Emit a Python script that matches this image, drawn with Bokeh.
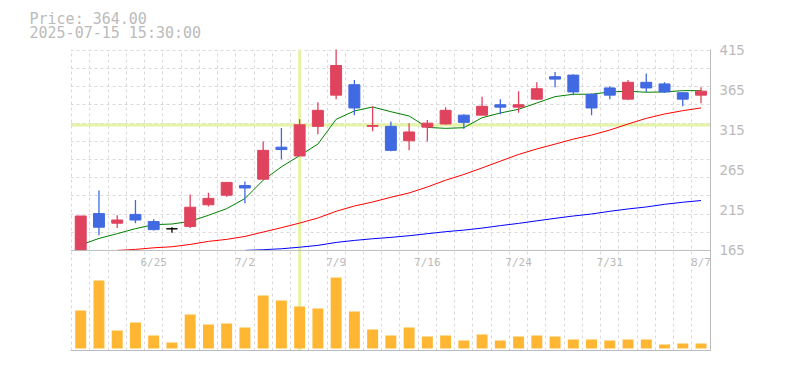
from bokeh.plotting import figure
from bokeh.models import Range1d, FixedTicker, Span, Title, ColumnDataSource
from bokeh.core.properties import value
from bokeh.embed import file_html
from bokeh.resources import INLINE

nan = float("nan")

dates = ["6/19", "6/20", "6/23", "6/24", "6/25", "6/26", "6/27", "6/30", "7/1", "7/2",
         "7/3", "7/4", "7/7", "7/8", "7/9", "7/10", "7/11", "7/14", "7/15", "7/16",
         "7/17", "7/18", "7/22", "7/23", "7/24", "7/25", "7/28", "7/29", "7/30", "7/31",
         "8/1", "8/4", "8/5", "8/6", "8/7"]
tick_dates = ["6/25", "7/2", "7/9", "7/16", "7/24", "7/31", "8/7"]
price_ticks = [165, 215, 265, 315, 365, 415]

opens = [165, 211, 199, 210, 201, 192, 195, 222, 234, 246, 254, 294, 283, 320, 359, 372, 320, 320,
         302, 319, 323, 334, 334, 347, 344, 354, 382, 384, 360, 368, 354, 375, 373, 362, 359]
highs = [208, 240, 209, 228, 204, 194, 235, 237, 250, 251, 301, 318, 329, 350, 417, 378, 345, 326,
         324, 328, 344, 335, 357, 354, 364, 375, 388, 385, 361, 370, 378, 386, 375, 363, 369]
lows = [165, 184, 193, 199, 190, 187, 193, 220, 232, 224, 254, 279, 283, 310, 354, 334, 314, 289,
        290, 301, 322, 317, 334, 335, 337, 353, 369, 359, 334, 354, 353, 363, 362, 345, 349]
closes = [208, 194, 203, 203, 191, 192, 219, 230, 250, 243, 290, 291, 322, 340, 396, 343, 321, 290,
          313, 324, 340, 325, 345, 344, 347, 367, 379, 363, 343, 359, 375, 368, 363, 354, 364]

ma_short = [171.9, 180, 185.9, 192.2, 197.2, 198, 201.3, 208.9, 217.2, 229.8, 252.7, 269.4, 283.5,
            297.8, 328.8, 339.2, 344.2, 338.3, 332.9, 318.7, 317.5, 318.3, 330.8, 336.7, 341.3,
            349.2, 357.1, 360.1, 360.1, 363, 363.9, 362.6, 363, 364.6, 364.6]
ma_mid = [nan, nan, 165, 166.3, 168.3, 169.6, 172.5, 176.3, 178.8, 182.5, 188, 193.4, 199.2, 205.5,
          213.9, 220.5, 225.5, 231.4, 236.8, 244.3, 252.7, 259.9, 268.1, 276.5, 284.9, 291.8,
          297.8, 304.1, 309.1, 315.4, 322.9, 330, 335.4, 339.6, 343]
ma_long = [nan] * 9 + [165, 165.9, 167.1, 169, 171.3, 175, 177.5, 179.6, 181.3, 183.4, 185.9, 188.4,
                       190.4, 192.9, 196, 198.8, 202, 205.1, 208, 210.5, 213.9, 216.8, 219.3,
                       222.6, 225.2, 227.3]

volumes = [190000, 340000, 90000, 130000, 65000, 30000, 170000, 120000, 125000, 105000,
           265000, 240000, 210000, 200000, 355000, 185000, 95000, 65000, 105000, 60000,
           65000, 40000, 70000, 40000, 60000, 65000, 60000, 45000, 45000, 40000,
           45000, 45000, 20000, 25000, 25000]

cross_index = 12
cross_price = 321.6
info_price = "Price: 364.00"
info_time = "2025-07-15 15:30:00"

UP = "#E0435E"
DOWN = "#4169E1"
FLAT = "#000000"
GRAY = "#bbbbbb"
MONO = "DejaVu Sans Mono"

idx = list(range(len(dates)))
colors = [UP if c > o else (DOWN if c < o else FLAT) for o, c in zip(opens, closes)]
src = ColumnDataSource(dict(
    x=idx, o=opens, h=highs, l=lows, c=closes,
    top=[max(o, c) for o, c in zip(opens, closes)],
    bottom=[min(o, c) for o, c in zip(opens, closes)],
    color=colors, vol=volumes,
    ma1=ma_short, ma2=ma_mid, ma3=ma_long,
))

p = figure(width=777, height=362, output_backend="svg", toolbar_location=None,
           x_range=Range1d(-0.56, 34.52), y_range=Range1d(40, 416),
           y_axis_location="right", min_border_left=70, min_border_right=67,
           min_border_top=49, min_border_bottom=12)
p.extra_y_ranges = {"vol": Range1d(-10000, 1495000)}
p.outline_line_color = None
p.background_fill_color = "white"
p.border_fill_color = "white"

# info text: one two-line title in the top margin
p.add_layout(Title(text=info_price + "\n" + info_time, align="left", offset=-41, standoff=14,
                   text_font=MONO, text_font_size="15px", text_font_style="normal",
                   text_line_height=0.8, text_color=GRAY), "above")

# grid
p.xgrid.ticker = FixedTicker(ticks=[k - 0.5 for k in range(len(dates) + 1)])
p.ygrid.ticker = FixedTicker(ticks=[165 + k * 250 / 11 for k in range(1, 12)])
for g in (p.xgrid, p.ygrid):
    g.grid_line_color = "#d9d9d9"
    g.grid_line_dash = "3 3"
    g.grid_line_width = 1

# axes
p.yaxis.ticker = FixedTicker(ticks=price_ticks)
p.yaxis.axis_line_color = GRAY
p.yaxis.major_tick_line_color = None
p.yaxis.minor_tick_line_color = None
p.yaxis.major_tick_out = 0
p.yaxis.major_tick_in = 0
p.yaxis.major_label_standoff = 9
p.yaxis.major_label_text_color = GRAY
p.yaxis.major_label_text_font = MONO
p.yaxis.major_label_text_font_size = "14px"

p.xaxis.axis_line_color = GRAY
p.xaxis.major_tick_line_color = None
p.xaxis.minor_tick_line_color = None
p.xaxis.major_tick_out = 0
p.xaxis.major_tick_in = 0
p.xaxis.major_label_text_font_size = "0px"
p.xaxis.major_label_standoff = 0
p.xaxis.ticker = FixedTicker(ticks=[])

# crosshair (under glyphs)
p.add_layout(Span(location=cross_price, dimension="width", line_color="#e4f4a6",
                  line_width=3, level="underlay"))
p.add_layout(Span(location=cross_index, dimension="height", line_color="#e4f4a6",
                  line_width=3, level="underlay"))

# separator between panels
p.add_layout(Span(location=165, dimension="width", line_color=GRAY, line_width=1))

# volume
p.vbar(x="x", top="vol", bottom=0, width=0.6, source=src, y_range_name="vol",
       fill_color="#FFB733", line_color=None)

# moving averages
p.line("x", "ma3", source=src, line_color="#0000FF", line_width=1)
p.line("x", "ma2", source=src, line_color="#FF0000", line_width=1)
p.line("x", "ma1", source=src, line_color="#008000", line_width=1)

# candles
p.segment(x0="x", y0="l", x1="x", y1="h", source=src, line_color="color", line_width=1.3)
p.vbar(x="x", top="top", bottom="bottom", width=0.6, source=src,
       fill_color="color", line_color="color", line_width=1)

# date labels
tick_idx = [dates.index(d) for d in tick_dates]
p.text(x=tick_idx, y=[150] * len(tick_idx), text=tick_dates, text_align="center",
       text_baseline="middle", text_color=GRAY, text_font=value(MONO),
       text_font_size="11px")

open("out.html", "w").write(file_html(p, INLINE))
